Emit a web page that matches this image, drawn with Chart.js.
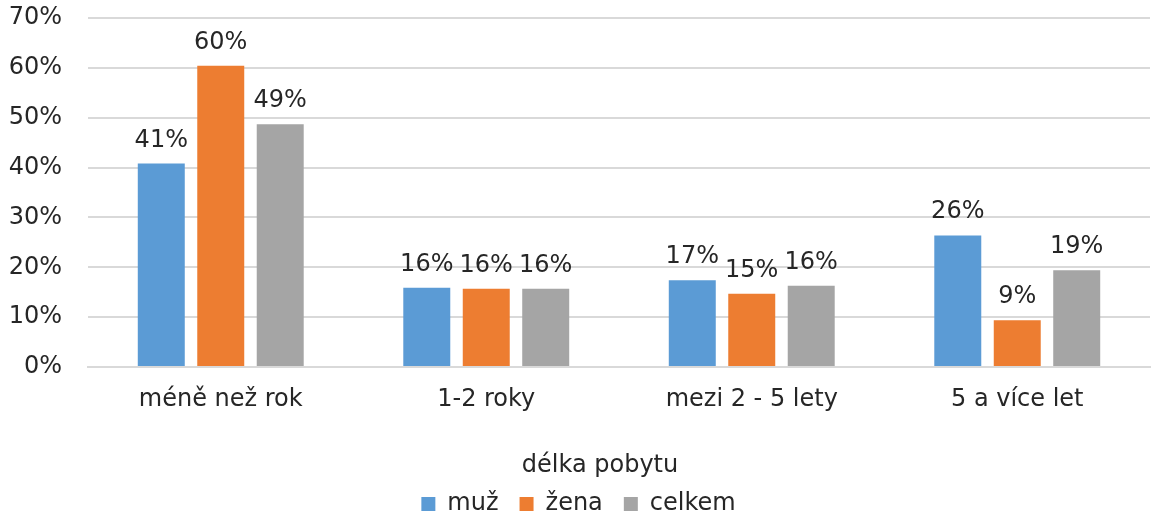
<!DOCTYPE html>
<html>
<head>
<meta charset="utf-8">
<script src="https://cdn.jsdelivr.net/npm/chart.js@4/dist/chart.umd.min.js"></script>
<style>
  html, body { margin: 0; padding: 0; background: #fff; }
  #wrap { width: 1152px; height: 515px; }
</style>
</head>
<body>
<div id="wrap"><canvas id="js--chart"></canvas></div>
<script>
var categories = ['méně než rok', '1-2 roky', 'mezi 2 - 5 lety', '5 a více let'];
var muz = [40.8, 15.9, 17.4, 26.4];
var zena = [60.4, 15.7, 14.7, 9.4];
var celkem = [48.7, 15.7, 16.3, 19.4];
var yTicks = ['0%', '10%', '20%', '30%', '40%', '50%', '60%', '70%'];
var xTitle = 'délka pobytu';

var textColor = '#262626';
var fontFamily = '"DejaVu Sans", Verdana, sans-serif';
var fontSize = 24;

// labels above each bar + axis title
var barLabels = {
    id: 'barLabels',
    afterDatasetsDraw: function (chart) {
        var ctx = chart.ctx;
        ctx.save();
        ctx.font = fontSize + 'px ' + fontFamily;
        ctx.fillStyle = textColor;
        ctx.textAlign = 'center';
        ctx.textBaseline = 'alphabetic';
        chart.data.datasets.forEach(function (ds, i) {
            chart.getDatasetMeta(i).data.forEach(function (bar, j) {
                ctx.fillText(Math.round(ds.data[j]) + '%', bar.x, bar.y - 17);
            });
        });
        // x axis title, sits a bit left of the plot centre like the original
        ctx.textBaseline = 'middle';
        ctx.fillText(xTitle, chart.width / 2 + 24, chart.scales.x.bottom - 5);
        ctx.restore();
    }
};

var cntxt = document.getElementById('js--chart');

var myChart = new Chart(cntxt, {
    type: 'bar',
    data: {
        labels: categories,
        datasets: [
            { label: 'muž', data: muz, backgroundColor: '#5B9BD5' },
            { label: 'žena', data: zena, backgroundColor: '#ED7D31' },
            { label: 'celkem', data: celkem, backgroundColor: '#A5A5A5' }
        ]
    },
    options: {
        responsive: true,
        maintainAspectRatio: false,
        animation: false,
        layout: { padding: { left: 7, right: 2, top: 0, bottom: -11 } },
        datasets: {
            bar: { categoryPercentage: 0.672, barPercentage: 0.79 }
        },
        scales: {
            x: {
                grid: { display: false, drawTicks: false },
                border: { color: '#d9d9d9', width: 2 },
                ticks: { color: textColor, font: { family: fontFamily, size: fontSize }, padding: 18 },
                afterFit: function (scale) { scale.height = 104; }
            },
            y: {
                min: 0,
                max: 70,
                grid: { color: '#d9d9d9', lineWidth: 2, drawTicks: false },
                border: { display: false },
                ticks: {
                    stepSize: 10,
                    color: textColor,
                    font: { family: fontFamily, size: fontSize },
                    padding: 26,
                    callback: function (v) { return yTicks[v / 10]; }
                },
                afterFit: function (scale) {
                    scale.width = 81;
                    scale.paddingTop = 18;
                    scale.paddingBottom = 0;
                }
            }
        },
        plugins: {
            legend: {
                position: 'bottom',
                labels: {
                    color: textColor,
                    font: { family: fontFamily, size: fontSize },
                    boxWidth: 14,
                    boxHeight: 14,
                    padding: 21
                }
            },
            tooltip: { enabled: false }
        }
    },
    plugins: [barLabels]
});
</script>
</body>
</html>
